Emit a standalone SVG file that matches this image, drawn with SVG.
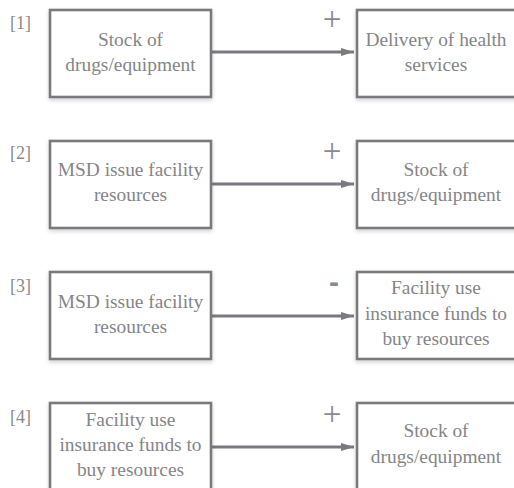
<svg xmlns="http://www.w3.org/2000/svg" width="514" height="488" viewBox="0 0 514 488">
<style>
.box{fill:#fff;stroke:#7a7a7e;stroke-width:2.6;filter:url(#sh)}
.t{font-family:"Liberation Serif",serif;font-size:19.4px;fill:#858588;text-anchor:middle}
.n{font-family:"Liberation Serif",serif;font-size:18px;fill:#8a8a8d}
.pl{font-family:"Liberation Serif",serif;font-size:33px;fill:#8a8a8d;text-anchor:middle}
.mi{font-family:"Liberation Sans",sans-serif;font-weight:bold;font-size:30px;fill:#8a8a8d;text-anchor:middle}
.c{stroke:#7a7a7e;stroke-width:2.8;fill:none;marker-end:url(#ah)}
</style>
<defs>
<filter id="sh" x="-10%" y="-10%" width="125%" height="130%">
<feDropShadow dx="0" dy="2" stdDeviation="2" flood-color="#000" flood-opacity="0.18"/>
</filter>
<marker id="ah" markerWidth="13" markerHeight="9" refX="13" refY="4.5" orient="auto" markerUnits="userSpaceOnUse">
<path d="M0,0.5 L13,4.5 L0,8.5 Z" fill="#7a7a7e"/>
</marker>
</defs>
<rect width="514" height="488" fill="#fff"/>
<g id="connectors">
<line class="c" x1="211" y1="52" x2="354" y2="52"/>
<line class="c" x1="211" y1="184" x2="354" y2="184"/>
<line class="c" x1="211" y1="316" x2="354" y2="316"/>
<line class="c" x1="211" y1="447" x2="354" y2="447"/>
<text class="pl" x="332" y="30">+</text>
<text class="pl" x="332" y="162">+</text>
<text class="mi" x="334" y="292">-</text>
<text class="pl" x="332" y="425">+</text>
</g>
<g id="labels">
<text class="n" x="10" y="29">[1]</text>
<text class="n" x="10" y="159">[2]</text>
<text class="n" x="10" y="292">[3]</text>
<text class="n" x="10" y="423">[4]</text>
</g>
<g id="n1a"><rect class="box" x="50" y="10" width="161" height="87"/>
<text class="t" x="130.5" y="46">Stock of</text><text class="t" x="130.5" y="71">drugs/equipment</text></g>
<g id="n1b"><rect class="box" x="357" y="10" width="161" height="87"/>
<text class="t" x="436" y="46">Delivery of health</text><text class="t" x="436" y="71">services</text></g>
<g id="n2a"><rect class="box" x="50" y="141" width="161" height="87"/>
<text class="t" x="130.5" y="176">MSD issue facility</text><text class="t" x="130.5" y="201">resources</text></g>
<g id="n2b"><rect class="box" x="357" y="141" width="161" height="87"/>
<text class="t" x="436" y="176">Stock of</text><text class="t" x="436" y="201">drugs/equipment</text></g>
<g id="n3a"><rect class="box" x="50" y="272" width="161" height="87"/>
<text class="t" x="130.5" y="308">MSD issue facility</text><text class="t" x="130.5" y="333">resources</text></g>
<g id="n3b"><rect class="box" x="357" y="272" width="161" height="87"/>
<text class="t" x="436" y="294">Facility use</text><text class="t" x="436" y="320">insurance funds to</text><text class="t" x="436" y="345">buy resources</text></g>
<g id="n4a"><rect class="box" x="50" y="403" width="161" height="87"/>
<text class="t" x="130.5" y="426">Facility use</text><text class="t" x="130.5" y="451">insurance funds to</text><text class="t" x="130.5" y="476">buy resources</text></g>
<g id="n4b"><rect class="box" x="357" y="403" width="161" height="87"/>
<text class="t" x="436" y="437">Stock of</text><text class="t" x="436" y="463">drugs/equipment</text></g>
</svg>
